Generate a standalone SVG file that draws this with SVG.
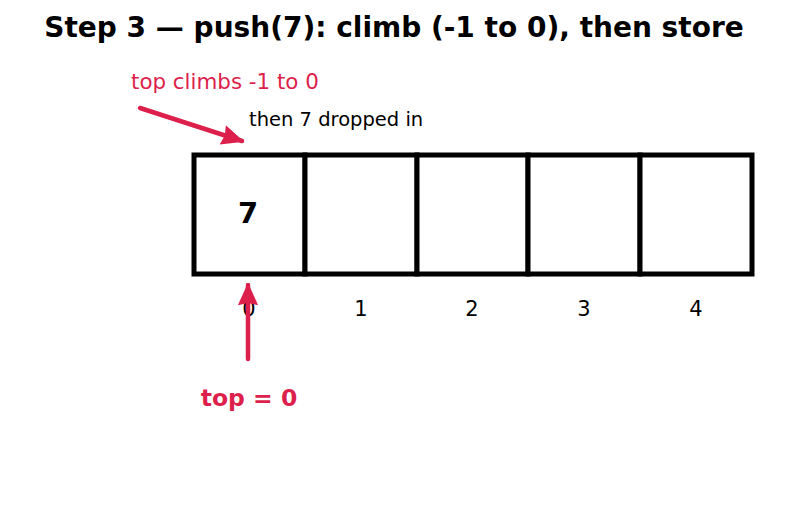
<svg xmlns="http://www.w3.org/2000/svg" width="787" height="514" viewBox="0 0 787 514">
<style>
text{font-family:"DejaVu Sans","Liberation Sans",sans-serif}
.cell{fill:#fff;stroke:#000;stroke-width:5}
.idx{font-size:21px;text-anchor:middle;fill:#000}
.red{fill:#dc1f4b}
.arr{stroke:#dc1f4b;stroke-width:4.5;fill:none;stroke-linecap:round}
</style>
<defs>
<marker id="ah" viewBox="0 0 10 10" refX="9" refY="5" markerWidth="5" markerHeight="5" markerUnits="strokeWidth" orient="auto">
<path d="M0,0.5 L10,5 L0,9.5 L1,5 z" fill="#dc1f4b"/>
</marker>
</defs>
<rect width="787" height="514" fill="#fff"/>
<text x="394" y="37" font-size="28" font-weight="bold" text-anchor="middle">Step 3 — push(7): climb (-1 to 0), then store</text>
<g id="cell0"><rect class="cell" x="194" y="155" width="111" height="119"/><text x="248" y="223" font-size="29" font-weight="bold" text-anchor="middle">7</text></g>
<g id="cell1"><rect class="cell" x="305" y="155" width="112" height="119"/></g>
<g id="cell2"><rect class="cell" x="417" y="155" width="111" height="119"/></g>
<g id="cell3"><rect class="cell" x="528" y="155" width="112" height="119"/></g>
<g id="cell4"><rect class="cell" x="640" y="155" width="112" height="119"/></g>
<g id="indices">
<text class="idx" x="249" y="316">0</text>
<text class="idx" x="361" y="316">1</text>
<text class="idx" x="472" y="316">2</text>
<text class="idx" x="584" y="316">3</text>
<text class="idx" x="696" y="316">4</text>
</g>
<g id="labels">
<text class="red" x="131" y="89" font-size="21.4">top climbs -1 to 0</text>
<text x="249" y="126" font-size="19.5">then 7 dropped in</text>
<text class="red" x="249" y="406" font-size="23.5" font-weight="bold" text-anchor="middle">top = 0</text>
</g>
<g id="connectors">
<line class="arr" x1="140" y1="108" x2="242" y2="141" marker-end="url(#ah)"/>
<line class="arr" x1="248" y1="359" x2="248" y2="285" marker-end="url(#ah)"/>
</g>
</svg>
